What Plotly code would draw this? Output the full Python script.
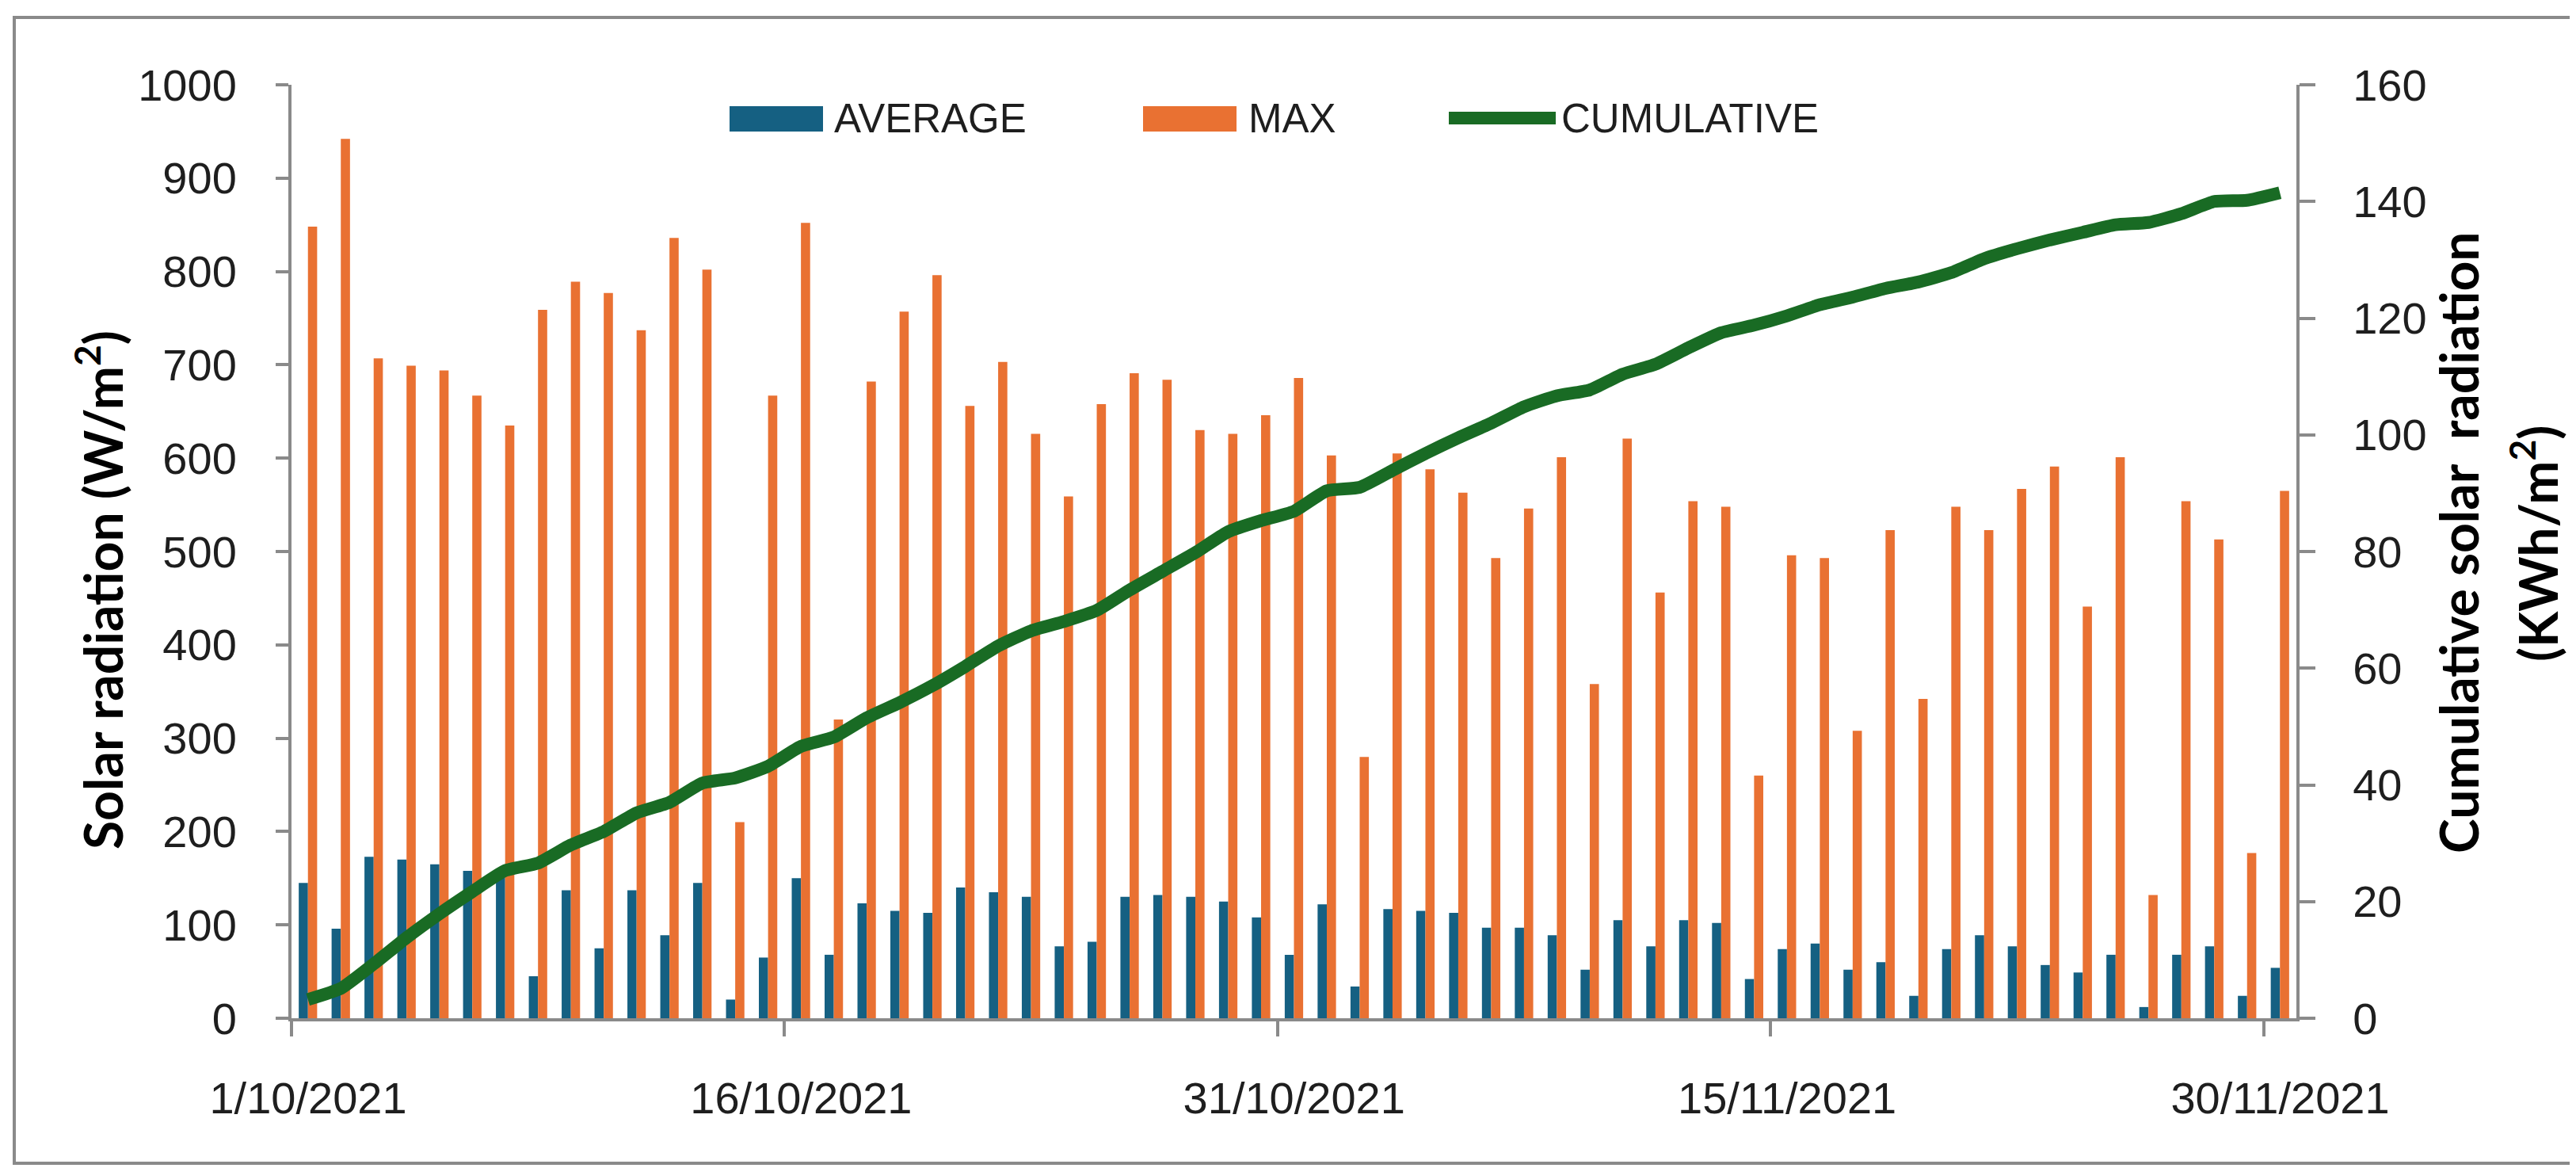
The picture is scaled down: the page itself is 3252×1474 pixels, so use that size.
import pandas as pd
import plotly.graph_objects as go

# ---------------- data ----------------
dates = pd.date_range("2021-10-01", "2021-11-30", freq="D").strftime("%Y-%m-%d").tolist()

avg_radiation = [145, 96, 173, 170, 165, 158, 155, 45, 137, 75,
                 137, 89, 145, 20, 65, 150, 68, 123, 115, 113,
                 140, 135, 130, 77, 82, 130, 132, 130, 125, 108,
                 68, 122, 34, 117, 115, 113, 97, 97, 89, 52,
                 105, 77, 105, 102, 42, 74, 80, 52, 60, 24,
                 74, 89, 77, 57, 49, 68, 12, 68, 77, 24, 54]

max_radiation = [848, 942, 707, 699, 694, 667, 635, 759, 789, 777,
                 737, 836, 802, 210, 667, 852, 320, 682, 757, 796,
                 656, 703, 626, 559, 658, 691, 684, 630, 626, 646,
                 686, 603, 280, 605, 588, 563, 493, 546, 601, 358,
                 621, 456, 554, 548, 260, 496, 493, 308, 523, 342,
                 548, 523, 567, 591, 441, 601, 132, 554, 513, 177, 565]

cumulative = [3.2, 5.1, 9.3, 13.8, 17.9, 21.7, 25.3, 26.6, 29.7, 32.0,
              35.2, 37.0, 40.3, 41.2, 43.2, 46.6, 48.2, 51.5, 54.1, 57.0,
              60.3, 63.8, 66.4, 68.0, 69.9, 73.4, 76.6, 79.8, 83.4, 85.3,
              86.9, 90.4, 91.0, 93.9, 96.8, 99.5, 102.0, 104.8, 106.7, 107.7,
              110.4, 112.1, 114.9, 117.5, 118.8, 120.4, 122.3, 123.6, 125.1, 126.2,
              127.8, 130.2, 131.9, 133.4, 134.7, 136.0, 136.4, 137.9, 140.0, 140.2, 141.5]

tick_dates = ["2021-10-01", "2021-10-16", "2021-10-31", "2021-11-15", "2021-11-30"]
tick_labels = ["1/10/2021", "16/10/2021", "31/10/2021", "15/11/2021", "30/11/2021"]
series_names = ["AVERAGE", "MAX", "CUMULATIVE"]

# ---------------- style ----------------
W, H = 3252, 1474
L, R, T, B = 360, 2891, 99, 1277          # plot area in pixels
BLUE, ORANGE, GREEN = "#156082", "#E97132", "#196B24"
AXIS = "#8A8A8A"
TXT = "#1E1E1E"
TICK_FONT = dict(family="Liberation Sans, Arial, sans-serif", size=56, color=TXT)
TITLE_FAMILY = "Lato, Roboto, Liberation Sans, sans-serif"
LEG_FONT = dict(family="Liberation Sans, Arial, sans-serif", size=51, color=TXT)
DAY_MS = 86400000


def px(x):
    return (x - L) / (R - L)


def py(y):
    return (B - y) / (B - T)


fig = go.Figure()
fig.add_trace(go.Bar(x=dates, y=avg_radiation, name=series_names[0], marker_color=BLUE,
                     marker_line_width=0, xperiod=DAY_MS, xperiodalignment="middle",
                     showlegend=False))
fig.add_trace(go.Bar(x=dates, y=max_radiation, name=series_names[1], marker_color=ORANGE,
                     marker_line_width=0, xperiod=DAY_MS, xperiodalignment="middle",
                     showlegend=False))
fig.add_trace(go.Scatter(x=dates, y=cumulative, name=series_names[2], yaxis="y2",
                         mode="lines", line=dict(color=GREEN, width=16, shape="spline", smoothing=0.5),
                         xperiod=DAY_MS, xperiodalignment="middle", showlegend=False,
                         cliponaxis=False))

fig.update_layout(
    width=W, height=H,
    margin=dict(l=L, r=W - R, t=T, b=H - B, pad=0),
    paper_bgcolor="white", plot_bgcolor="white",
    barmode="group", bargap=0.44, bargroupgap=0.0,
    showlegend=False,
    xaxis=dict(type="date", range=["2021-10-01", "2021-12-01"],
               tickvals=tick_dates, ticktext=tick_labels,
               ticks="outside", ticklen=19, tickwidth=4, tickcolor=AXIS,
               showline=True, linecolor=AXIS, linewidth=4,
               showgrid=False, zeroline=False,
               tickfont=TICK_FONT, ticklabelshift=21, ticklabelstandoff=30),
    yaxis=dict(range=[0, 1000], dtick=100, tick0=0,
               ticks="outside", ticklen=16, tickwidth=4, tickcolor=AXIS,
               showline=True, linecolor=AXIS, linewidth=4,
               showgrid=False, zeroline=False,
               tickfont=TICK_FONT, ticklabelstandoff=38),
    yaxis2=dict(range=[0, 160], dtick=20, tick0=0, overlaying="y", side="right",
                ticks="outside", ticklen=20, tickwidth=4, tickcolor=AXIS,
                showline=True, linecolor=AXIS, linewidth=4,
                showgrid=False, zeroline=False,
                tickfont=TICK_FONT, ticklabelstandoff=36),
)

shapes = []
annotations = []

# outer frame
shapes.append(dict(type="rect", xref="paper", yref="paper",
                   x0=px(10), x1=px(3242), y0=py(1460), y1=py(14),
                   line=dict(color=AXIS, width=4), fillcolor="rgba(0,0,0,0)", layer="below"))

# axis titles
TITLE_FONT = dict(family=TITLE_FAMILY, size=66, color="black", weight="bold")
annotations.append(dict(text="Solar radiation (W/m<sup>2</sup>)", xref="paper", yref="paper",
                        x=px(117), y=py(736), textangle=-90, showarrow=False,
                        xanchor="center", yanchor="middle", font=TITLE_FONT))
annotations.append(dict(text="Cumulative solar\u00a0 radiation", xref="paper", yref="paper",
                        x=px(3095), y=py(677), textangle=-90, showarrow=False,
                        xanchor="center", yanchor="middle", font=TITLE_FONT))
annotations.append(dict(text="(KWh/m<sup>2</sup>)", xref="paper", yref="paper",
                        x=px(3191), y=py(678), textangle=-90, showarrow=False,
                        xanchor="center", yanchor="middle", font=TITLE_FONT))

# legend (drawn manually to match the wide Excel swatches)
legend_items = [
    ("bar", BLUE, 913, 1031, 1043, series_names[0]),
    ("bar", ORANGE, 1435, 1553, 1566, series_names[1]),
    ("line", GREEN, 1821, 1956, 1961, series_names[2]),
]
for kind, color, x0, x1, xt, label in legend_items:
    if kind == "bar":
        shapes.append(dict(type="rect", xref="paper", yref="paper",
                           x0=px(x0), x1=px(x1), y0=py(158), y1=py(126),
                           fillcolor=color, line=dict(width=0)))
    else:
        shapes.append(dict(type="line", xref="paper", yref="paper",
                           x0=px(x0), x1=px(x1), y0=py(141), y1=py(141),
                           line=dict(color=color, width=16)))
    annotations.append(dict(text=label, xref="paper", yref="paper",
                            x=px(xt), y=py(142), showarrow=False,
                            xanchor="left", yanchor="middle", font=LEG_FONT))

fig.update_layout(shapes=shapes, annotations=annotations)

fig.write_html("out.html")
